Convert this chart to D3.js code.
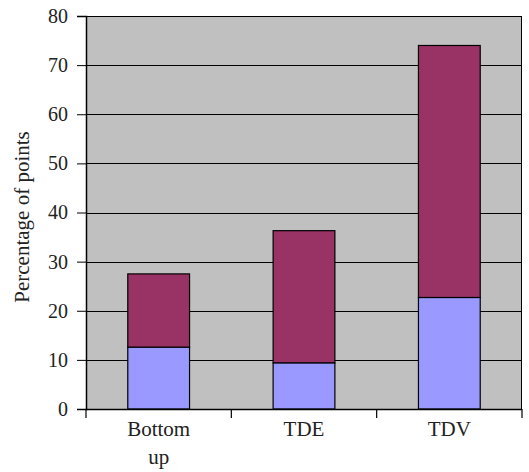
<!DOCTYPE html>
<html><head><meta charset="utf-8">
<script src="https://cdn.jsdelivr.net/npm/d3@7"></script>
<style>body{margin:0;background:#fff}</style>
</head><body><svg id="c" width="529" height="472"></svg>
<script>
const categories = [["Bottom","up"],["TDE"],["TDV"]];
const seriesLower = [12.6, 9.4, 22.7];
const seriesUpper = [14.9, 26.9, 51.3];
const yTicks = [0,10,20,30,40,50,60,70,80];
const colors = ["#9999FF","#993366"];
const FONT = "'Liberation Serif', 'Times New Roman', serif";

const svg = d3.select("#c");
const m = {l:86, r:522, t:16, b:409};
const x = d3.scaleBand().domain(d3.range(categories.length)).range([m.l, m.r]).paddingInner(0.575).paddingOuter(0.2875);
const y = d3.scaleLinear().domain([0,80]).range([m.b, m.t]);

svg.append("rect").attr("x",m.l).attr("y",m.t).attr("width",m.r-m.l).attr("height",m.b-m.t).attr("fill","#C0C0C0");
svg.append("g").selectAll("line").data(yTicks).join("line")
  .attr("x1",m.l).attr("x2",m.r).attr("y1",d=>Math.round(y(d))+0.5).attr("y2",d=>Math.round(y(d))+0.5)
  .attr("stroke","#000").attr("stroke-width",1);

const stack = d3.stack().keys([0,1])(categories.map((c,i)=>({0:seriesLower[i],1:seriesUpper[i]})));
stack.forEach((s,k)=>{
  svg.append("g").selectAll("rect").data(s).join("rect")
    .attr("x",(d,i)=>x(i)).attr("width",x.bandwidth())
    .attr("y",d=>y(d[1])).attr("height",d=>y(d[0])-y(d[1]))
    .attr("fill",colors[k]).attr("stroke","#000").attr("stroke-width",1.2);
});

// plot border
svg.append("rect").attr("x",m.l+0.5).attr("y",m.t+0.5).attr("width",m.r-m.l-1).attr("height",m.b-m.t).attr("fill","none").attr("stroke","#000").attr("stroke-width",1);

const yAxis = d3.axisLeft(y).tickValues(yTicks).tickSize(9).tickPadding(9);
const gy = svg.append("g").attr("transform",`translate(${m.l},0)`).call(yAxis);
gy.select(".domain").attr("stroke","#000").attr("stroke-width",1.5);
gy.selectAll("text").style("font-family",FONT).style("font-size","20px").attr("fill","#222");

// x axis
const bandStep = (m.r-m.l)/categories.length;
const gx = svg.append("g");
gx.append("line").attr("x1",m.l).attr("x2",m.r).attr("y1",m.b+0.5).attr("y2",m.b+0.5).attr("stroke","#000").attr("stroke-width",1.5);
gx.selectAll("line.t").data(d3.range(categories.length+1)).join("line").attr("class","t")
  .attr("x1",i=>m.l+i*bandStep).attr("x2",i=>m.l+i*bandStep).attr("y1",m.b).attr("y2",m.b+9).attr("stroke","#000").attr("stroke-width",1.2);
categories.forEach((c,i)=>{
  c.forEach((t,j)=>{
    gx.append("text").attr("x",x(i)+x.bandwidth()/2).attr("y",436+j*28).attr("text-anchor","middle")
      .style("font-family",FONT).style("font-size","21px").attr("fill","#222").text(t);
  });
});

svg.append("text").attr("transform","translate(29,217) rotate(-90)").attr("text-anchor","middle")
  .style("font-family",FONT).style("font-size","21px").attr("fill","#222").text("Percentage of points");
</script></body></html>
